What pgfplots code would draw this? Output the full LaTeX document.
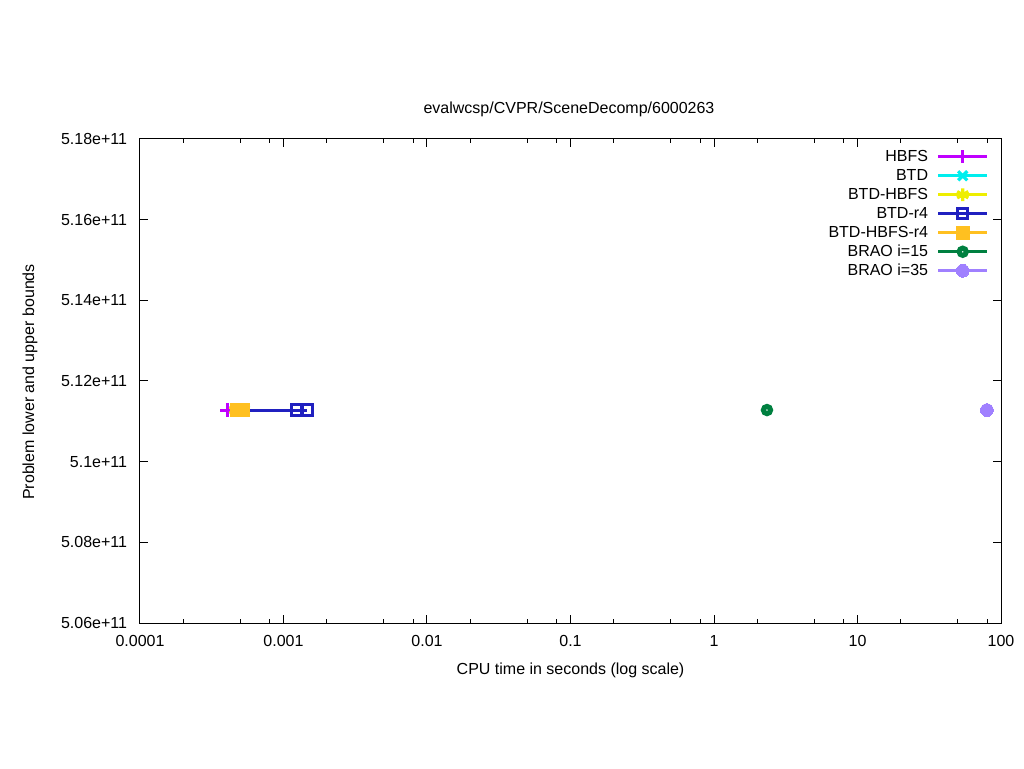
\documentclass[border=0pt]{standalone}
\usepackage{fontspec}
\setmainfont{Liberation Sans}
\usepackage{pgfplots}
\pgfplotsset{compat=1.18}
\definecolor{cHBFS}{HTML}{C000FF}
\definecolor{cBTD}{HTML}{00EEEE}
\definecolor{cBTDH}{HTML}{EEEE00}
\definecolor{cBTDr}{HTML}{2020C0}
\definecolor{cBTDHr}{HTML}{FFC020}
\definecolor{cB15}{HTML}{008040}
\definecolor{cB35}{HTML}{A080FF}
\begin{document}
\fontsize{12}{14.4}\selectfont
\begin{tikzpicture}
\useasboundingbox (0,0) rectangle (768pt,576pt);
\begin{axis}[
  at={(105pt,108.75pt)}, anchor=south west,
  scale only axis, width=645.75pt, height=363pt,
  xmode=log, log basis x=10,
  xmin=1e-4, xmax=100, ymin=5.06e11, ymax=5.18e11,
  xtick={1e-4,1e-3,1e-2,1e-1,1,10,100},
  xticklabels={0.0001,0.001,0.01,0.1,1,10,100},
  minor xtick={2e-4,5e-4,8e-4,2e-3,5e-3,8e-3,2e-2,5e-2,8e-2,0.2,0.5,0.8,2,5,8,20,50,80},
  ytick={5.06e11,5.08e11,5.10e11,5.12e11,5.14e11,5.16e11,5.18e11},
  yticklabels={5.06e+11,5.08e+11,5.1e+11,5.12e+11,5.14e+11,5.16e+11,5.18e+11},
  scaled y ticks=false,
  tick align=inside,
  major tick length=6pt, minor tick length=3pt,
  every tick/.style={black, line width=0.75pt},
  axis line style={line width=0.75pt},
  tick label style={font=\fontsize{12}{14.4}\selectfont},
  xticklabel style={yshift=-5pt},
  yticklabel style={xshift=-5.5pt},
  legend plot pos=right,
  legend cell align=right,
  legend style={at={(1,1)}, anchor=north east, xshift=-6pt, yshift=-4pt,
    draw=none, fill=none, row sep=0pt,
    nodes={inner xsep=3pt, inner ysep=0pt, text height=10.5pt, text depth=3.75pt},
    font=\fontsize{12}{14.4}\selectfont},
  legend image code/.code={\path (-3.5pt,0pt); \draw[mark repeat=2,mark phase=2] plot coordinates {(0pt,0pt) (18.4pt,0pt) (36.8pt,0pt)};},
]
\addplot[color=cHBFS, line width=2.2pt, mark=+, mark size=5pt, mark options={line width=2.2pt}] coordinates {(4.04e-4,5.1128e11) (4.1e-4,5.1128e11)};
\addlegendentry{HBFS}
\addplot[color=cBTD, line width=2.2pt, mark=x, mark size=4.8pt, mark options={line width=2.4pt}] coordinates {(4.6e-4,5.1128e11) (5.35e-4,5.1128e11)};
\addlegendentry{BTD}
\addplot[color=cBTDH, line width=2.2pt, mark=asterisk, mark size=4.8pt, mark options={line width=2.4pt}] coordinates {(4.6e-4,5.1128e11) (5.2e-4,5.1128e11)};
\addlegendentry{BTD-HBFS}
\addplot[color=cBTDr, line width=2.2pt, mark=square, mark size=3.9pt, mark options={line width=2.2pt}] coordinates {(5.2e-4,5.1128e11) (1.24e-3,5.1128e11) (1.46e-3,5.1128e11)};
\addlegendentry{BTD-r4}
\addplot[color=cBTDHr, line width=2.2pt, mark=square*, mark size=4.8pt, mark options={line width=0pt}] coordinates {(4.74e-4,5.1128e11) (5.25e-4,5.1128e11)};
\addlegendentry{BTD-HBFS-r4}
\addplot[color=cB15, line width=2.2pt, mark=*, mark size=2.7pt, mark options={fill=white, line width=3.8pt}] coordinates {(2.34,5.1128e11)};
\addlegendentry{BRAO i=15}
\addplot[color=cB35, line width=2.2pt, mark=*, mark size=4.8pt, mark options={line width=0pt}] coordinates {(79.8,5.1128e11)};
\addlegendentry{BRAO i=35}
\end{axis}
\node[anchor=center] at (426.75pt,494.25pt) {evalwcsp/CVPR/SceneDecomp/6000263};
\node[anchor=center] at (427.9pt,73.5pt) {CPU time in seconds (log scale)};
\node[anchor=center, rotate=90] at (22.5pt,289.5pt) {Problem lower and upper bounds};
\end{tikzpicture}
\end{document}
